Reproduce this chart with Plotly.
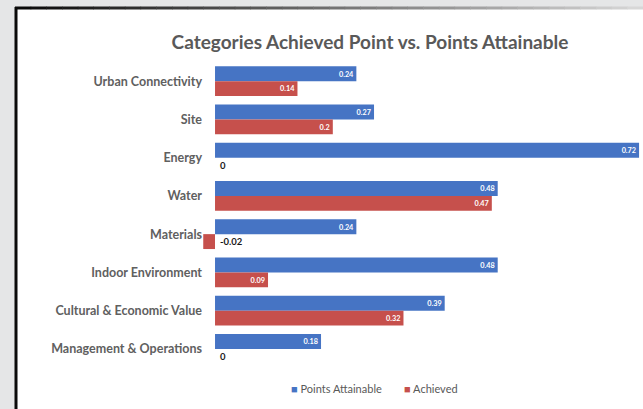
import plotly.graph_objects as go

# Category scores
categories = [
    "Urban Connectivity",
    "Site",
    "Energy",
    "Water",
    "Materials",
    "Indoor Environment",
    "Cultural & Economic Value",
    "Management & Operations",
]
points_attainable = [0.24, 0.27, 0.72, 0.48, 0.24, 0.48, 0.39, 0.18]
achieved = [0.14, 0.2, 0, 0.47, -0.02, 0.09, 0.32, 0]
series_names = ["Points Attainable", "Achieved"]

W, H = 643, 409
L, R, T, B = 200, 1, 62, 41
PW, PH = W - L - R, H - T - B

BLUE = "#4674c4"
RED = "#c6504c"
GREY_TXT = "#595959"


def px(x):
    return (x - L) / PW


def py(y):
    return (H - B - y) / PH


def label_text(v):
    return f"{v:g}"


fig = go.Figure()

fig.add_trace(go.Bar(
    name=series_names[0],
    y=categories,
    x=points_attainable,
    orientation="h",
    marker=dict(color=BLUE, line=dict(width=0)),
    text=[label_text(v) for v in points_attainable],
    textposition="inside",
    insidetextanchor="end",
    textfont=dict(color="white", size=9, family="Lato", weight="bold"),
    cliponaxis=False,
))

# values that are zero or negative get their labels beside the axis instead
fig.add_trace(go.Bar(
    name=series_names[1],
    y=categories,
    x=achieved,
    orientation="h",
    marker=dict(color=RED, line=dict(width=0)),
    text=[label_text(v) if v > 0 else "" for v in achieved],
    textposition="inside",
    insidetextanchor="end",
    textfont=dict(color="white", size=9, family="Lato", weight="bold"),
    cliponaxis=False,
))

annotations = []
for cat, v in zip(categories, achieved):
    if v <= 0:
        annotations.append(dict(
            x=0, y=cat, xref="x", yref="y",
            text=f"<b>{label_text(v)}</b>",
            showarrow=False, xanchor="left", yanchor="middle",
            xshift=3, yshift=-7.5,
            font=dict(color="#1a1a1a", size=9.5, family="Lato"),
        ))

# compact legend row under the chart
legend_items = [(series_names[0], BLUE, 289), (series_names[1], RED, 402)]
for name, color, x_left in legend_items:
    annotations.append(dict(
        x=px(x_left), y=py(388), xref="paper", yref="paper",
        text=f"<span style='color:{color}'>■</span> {name}",
        showarrow=False, xanchor="left", yanchor="middle",
        font=dict(color=GREY_TXT, size=11, family="Lato"),
    ))

shapes = []
# white panel
shapes.append(dict(
    type="rect", xref="paper", yref="paper",
    x0=px(17), x1=px(660), y0=py(430), y1=py(9),
    fillcolor="white", line=dict(width=0), layer="below",
))
# left border
shapes.append(dict(
    type="line", xref="paper", yref="paper",
    x0=px(16), x1=px(16), y0=py(430), y1=py(7),
    line=dict(color="#0a0a0a", width=3), layer="below",
))
# top border fading from dark to light grey
n = 40
x_start, x_end = 15, 643
for i in range(n):
    t = i / (n - 1)
    c = int(10 + t * (215 - 10))
    xa = x_start + (x_end - x_start) * i / n
    xb = x_start + (x_end - x_start) * (i + 1) / n + 0.5
    shapes.append(dict(
        type="line", xref="paper", yref="paper",
        x0=px(xa), x1=px(xb), y0=py(8), y1=py(8),
        line=dict(color=f"rgb({c},{c},{c})", width=3), layer="below",
    ))

fig.update_layout(
    width=W, height=H,
    margin=dict(l=L, r=R, t=T, b=B),
    paper_bgcolor="#e5e6e7",
    plot_bgcolor="rgba(0,0,0,0)",
    barmode="group",
    bargap=0.22,
    bargroupgap=0,
    title=dict(
        text="<b>Categories Achieved Point vs. Points Attainable</b>",
        x=370 / W, xref="container", xanchor="center",
        y=1 - 42 / H, yref="container", yanchor="middle",
        font=dict(family="Lato", size=19, color=GREY_TXT),
    ),
    xaxis=dict(
        range=[-0.0255, 0.725],
        showgrid=False, zeroline=False, showticklabels=False, showline=False,
        fixedrange=True,
    ),
    yaxis=dict(
        autorange="reversed",
        showgrid=False, zeroline=False, showline=False,
        ticks="",
        ticklabelstandoff=-3,
        tickfont=dict(family="Lato", size=12.5, color="#606060", weight="bold"),
    ),
    shapes=shapes,
    annotations=annotations,
    showlegend=False,
)

fig.write_html("out.html")
